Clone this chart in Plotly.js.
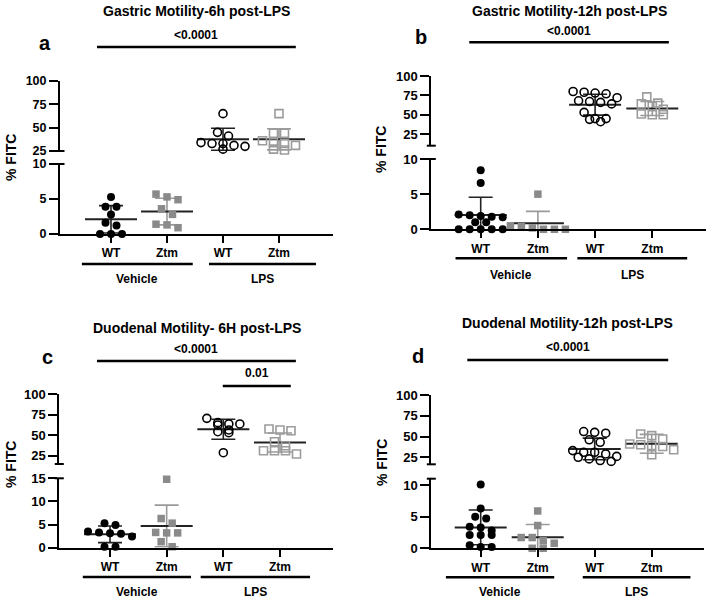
<!DOCTYPE html>
<html>
<head>
<meta charset="utf-8">
<script src="https://cdn.plot.ly/plotly-3.0.1.min.js"></script>
<style>html,body{margin:0;padding:0;background:#fff;}#chart{width:708px;height:600px;}</style>
</head>
<body>
<div id="chart"></div>
<script>
// ---------- DATA ----------
const CAT_LABELS = ['WT', 'Ztm', 'WT', 'Ztm'];
const GROUP_LABELS = ['Vehicle', 'LPS'];
const TITLES = ['Gastric Motility-6h post-LPS', 'Gastric Motility-12h post-LPS',
                'Duodenal Motility- 6H post-LPS', 'Duodenal Motility-12h post-LPS'];
const LETTERS = ['a', 'b', 'c', 'd'];
const Y_TITLE = '% FITC';

// Panel a: Gastric 6h
const a_vehWT  = [5.3, 3.9, 3.9, 2.8, 1.6, 1.2, 0, 0, 0];
const a_vehZtm = [5.7, 5.3, 4.9, 3.6, 2.8, 1.4, 1.3, 0.9];
const a_lpsWT  = [65, 45, 41, 34, 33, 33, 31, 30, 27];
const a_lpsZtm = [65, 44, 44, 36, 34, 33, 31, 27, 26];
const a_mean   = [2.1, 3.2, 37.5, 37.5];
const a_sd     = [1.95, 1.9, 11.8, 11.3];
const a_sig    = ['<0.0001'];

// Panel b: Gastric 12h
const b_vehWT  = [8.4, 6.6, 2.1, 2.0, 1.9, 1.8, 1.7, 1.0, 1.0, 0, 0, 0, 0, 0];
const b_vehZtm = [5.0, 0.5, 0.4, 0.2, 0, 0, 0];
const b_lpsWT  = [80, 79, 78, 77, 72, 68, 67, 66, 64, 53, 45, 45, 44, 41];
const b_lpsZtm = [73, 65, 64, 61, 57, 51, 50, 50];
const b_mean   = [2.05, 0.85, 63, 58];
const b_sd     = [2.5, 1.7, 13.5, 9];
const b_sig    = ['<0.0001'];

// Panel c: Duodenal 6h
const c_vehWT  = [5.3, 4.9, 3.5, 3.3, 3.1, 3.0, 2.4, 0.2, 0.2];
const c_vehZtm = [14.8, 6.3, 5.3, 3.3, 3.2, 3.2, 1.3, 0.2];
const c_lpsWT  = [70.7, 65.4, 63.8, 63.8, 62.6, 56.5, 54.4, 53.2, 28.8];
const c_lpsZtm = [57.7, 56.5, 55.6, 42.2, 37.3, 31.2, 31.2, 31.2, 27.2];
const c_mean   = [2.9, 4.7, 57.3, 41.2];
const c_sd     = [1.8, 4.5, 12.2, 11.6];
const c_sig    = ['<0.0001', '0.01'];

// Panel d: Duodenal 12h
const d_vehWT  = [10.1, 6.3, 5.0, 4.7, 3.4, 3.3, 2.8, 2.1, 2.1, 2.1, 0.5, 0.2, 0.2];
const d_vehZtm = [5.9, 3.6, 1.7, 1.7, 1.2, 0.8, 0, 0];
const d_lpsWT  = [56, 55, 54, 46, 43, 33, 31, 31, 29, 26, 25, 23, 21, 20];
const d_lpsZtm = [53, 51, 47, 41, 40, 39, 38, 34, 28];
const d_mean   = [3.3, 1.75, 35, 41.2];
const d_sd     = [2.75, 2.0, 13, 11.4];
const d_sig    = ['<0.0001'];

// Axis ticks / ranges
const LOW_TICKS = [[0, 5, 10], [0, 5, 10], [0, 5, 10, 15], [0, 5, 10]];
const UP_TICKS = [25, 50, 75, 100];
const LOW_RANGES = [[0, 10], [0, 10], [0, 15], [0, 11]];
const UP_RANGES = [[25, 100], [10, 100], [15, 100], [16.5, 100]];

// ---------- LAYOUT GEOMETRY (pixels, styles) ----------
const W = 708, H = 600;
const FONT = 'Liberation Sans, Arial, Helvetica, sans-serif';
const px = v => v / W;
const py = v => 1 - v / H;

const panels = [
  { series: [a_vehWT, a_vehZtm, a_lpsWT, a_lpsZtm], mean: a_mean, sd: a_sd, sig: a_sig,
    xDom: [60, 333], cat1: 111, cat4: 279, lowDom: [234, 164], upDom: [151, 81],
    labelShift: 1.5, tickSize: 12.5,
    title: [196, 11], letter: [45, 43], ytitle: [11, 158],
    sigGeom: [{ x0: 0.75, x1: 4.30, y: 47, ty: 35 }],
    groups: [[0.48, 2.46], [2.75, 4.66]], gy: 264, gly: 279 },
  { series: [b_vehWT, b_vehZtm, b_lpsWT, b_lpsZtm], mean: b_mean, sd: b_sd, sig: b_sig,
    xDom: [431.3, 705.7], cat1: 480.7, cat4: 652.3, lowDom: [229.3, 159], upDom: [145.7, 76],
    labelShift: 0, tickSize: 13,
    title: [569, 11], letter: [421, 37], ytitle: [381, 150],
    sigGeom: [{ x0: 0.80, x1: 4.29, y: 42.3, ty: 30.7 }],
    groups: [[0.56, 2.51], [2.69, 4.61]], gy: 258.3, gly: 275 },
  { series: [c_vehWT, c_vehZtm, c_lpsWT, c_lpsZtm], mean: c_mean, sd: c_sd, sig: c_sig,
    xDom: [59.3, 333], cat1: 110, cat4: 280, lowDom: [547.7, 478.3], upDom: [464, 394.3],
    labelShift: 0, tickSize: 13,
    title: [197, 328], letter: [47, 357], ytitle: [11, 465],
    sigGeom: [{ x0: 0.77, x1: 4.28, y: 361, ty: 349 }, { x0: 2.99, x1: 4.19, y: 386, ty: 373 }],
    groups: [[0.52, 2.43], [2.60, 4.53]], gy: 577, gly: 592 },
  { series: [d_vehWT, d_vehZtm, d_lpsWT, d_lpsZtm], mean: d_mean, sd: d_sd, sig: d_sig,
    xDom: [431.3, 704], cat1: 480.7, cat4: 651.7, lowDom: [548.3, 478.7], upDom: [464.3, 395],
    labelShift: 0, tickSize: 13,
    title: [567, 323], letter: [418, 356], ytitle: [382, 463],
    sigGeom: [{ x0: 0.765, x1: 4.29, y: 360, ty: 346.7 }],
    groups: [[0.39, 2.29], [2.79, 4.68]], gy: 577.3, gly: 592.3 }
];

const MARKERS = [
  { symbol: 'circle', size: 8, color: '#000000', line: { width: 0 } },
  { symbol: 'square', size: 7.5, color: '#8a8a8a', line: { width: 0 } },
  { symbol: 'circle-open', size: 8, color: '#000000', line: { width: 1.6, color: '#000000' } },
  { symbol: 'square-open', size: 8, color: '#9c9c9c', line: { width: 1.6, color: '#9c9c9c' } }
];
const ERR_COLORS = ['#222222', '#9a9a9a', '#222222', '#9a9a9a'];
const SPACING_PX = 11, ROW_TOL_PX = 6.5, MEAN_HALF_PX = 26, CAP_HALF_PX = 12;

// deterministic beeswarm: rows of nearby values spread symmetrically
function swarm(values, center, pxPerX, pxPerY) {
  const idx = values.map((v, i) => i).sort((a, b) => values[b] - values[a]);
  const xs = new Array(values.length);
  let row = [];
  const flush = () => {
    const n = row.length;
    row.forEach((i, k) => { xs[i] = center + (k - (n - 1) / 2) * SPACING_PX / pxPerX; });
    row = [];
  };
  idx.forEach(i => {
    if (row.length && (values[row[0]] - values[i]) * pxPerY > ROW_TOL_PX) flush();
    row.push(i);
  });
  flush();
  return xs;
}

const traces = [], shapes = [], annotations = [];
const layout = {
  width: W, height: H, margin: { l: 0, r: 0, t: 0, b: 0 },
  paper_bgcolor: '#ffffff', plot_bgcolor: 'rgba(0,0,0,0)', showlegend: false,
  font: { family: FONT, color: '#000' }
};

const axisBase = {
  showline: true, linewidth: 2, linecolor: '#000', showgrid: false, zeroline: false,
  ticks: 'outside', tickwidth: 2, tickcolor: '#000', fixedrange: true
};

panels.forEach((p, i) => {
  const n = i + 1;
  const xId = n === 1 ? 'x' : 'x' + n;
  const xName = n === 1 ? 'xaxis' : 'xaxis' + n;
  const lowNum = 2 * n - 1, upNum = 2 * n;
  const yLowId = lowNum === 1 ? 'y' : 'y' + lowNum;
  const yLowName = lowNum === 1 ? 'yaxis' : 'yaxis' + lowNum;
  const yUpId = 'y' + upNum, yUpName = 'yaxis' + upNum;

  const pxPerX = (p.cat4 - p.cat1) / 3;
  const xRange = [1 - (p.cat1 - p.xDom[0]) / pxPerX, 4 + (p.xDom[1] - p.cat4) / pxPerX];
  const lowRange = LOW_RANGES[i], upRange = UP_RANGES[i];
  const pxPerYLow = (p.lowDom[0] - p.lowDom[1]) / (lowRange[1] - lowRange[0]);
  const pxPerYUp = (p.upDom[0] - p.upDom[1]) / (upRange[1] - upRange[0]);

  layout[xName] = Object.assign({}, axisBase, {
    domain: [px(p.xDom[0]), px(p.xDom[1])], range: xRange, anchor: yLowId,
    tickvals: [1, 2, 3, 4], ticktext: CAT_LABELS, ticklen: 7,
    tickfont: { family: FONT, size: 12, color: '#000', weight: 'bold' }
  });
  layout[yLowName] = Object.assign({}, axisBase, {
    domain: [py(p.lowDom[0]), py(p.lowDom[1])], range: lowRange, anchor: xId,
    tickvals: LOW_TICKS[i], ticklen: 9, ticklabelshift: p.labelShift,
    tickfont: { family: FONT, size: p.tickSize, color: '#000', weight: 'bold' }
  });
  layout[yUpName] = Object.assign({}, axisBase, {
    domain: [py(p.upDom[0]), py(p.upDom[1])], range: upRange, anchor: xId,
    tickvals: UP_TICKS, ticklen: 9, ticklabelshift: -p.labelShift,
    tickfont: { family: FONT, size: p.tickSize, color: '#000', weight: 'bold' }
  });

  // error bars and mean lines
  p.series.forEach((vals, g) => {
    const upper = g >= 2;
    const yref = upper ? yUpId : yLowId;
    const c = g + 1;
    traces.push({
      type: 'scatter', mode: 'markers', xaxis: xId, yaxis: yref,
      x: [c], y: [p.mean[g]],
      marker: { size: 1, color: 'rgba(0,0,0,0)' },
      error_y: { type: 'data', array: [p.sd[g]], visible: true, color: ERR_COLORS[g], thickness: 1.6, width: CAP_HALF_PX },
      hoverinfo: 'skip'
    });
    traces.push({
      type: 'scatter', mode: 'lines', xaxis: xId, yaxis: yref,
      x: [c - MEAN_HALF_PX / pxPerX, c + MEAN_HALF_PX / pxPerX], y: [p.mean[g], p.mean[g]],
      line: { color: '#222', width: 2 }, hoverinfo: 'skip'
    });
  });
  // points
  p.series.forEach((vals, g) => {
    const upper = g >= 2;
    const yref = upper ? yUpId : yLowId;
    const xs = swarm(vals, g + 1, pxPerX, upper ? pxPerYUp : pxPerYLow);
    traces.push({
      type: 'scatter', mode: 'markers', xaxis: xId, yaxis: yref,
      x: xs, y: vals, marker: MARKERS[g], cliponaxis: false
    });
  });

  // axis-break caps
  [p.lowDom[1], p.upDom[0]].forEach(yy => {
    shapes.push({ type: 'line', xref: 'paper', yref: 'paper',
      x0: px(p.xDom[0] - 4.5), x1: px(p.xDom[0] + 4.5), y0: py(yy), y1: py(yy),
      line: { color: '#000', width: 2 } });
  });

  // significance bars
  p.sigGeom.forEach((s, k) => {
    shapes.push({ type: 'line', xref: xId, yref: 'paper', x0: s.x0, x1: s.x1, y0: py(s.y), y1: py(s.y),
      line: { color: '#000', width: 2.5 } });
    annotations.push({ xref: xId, yref: 'paper', x: (s.x0 + s.x1) / 2, y: py(s.ty), text: '<b>' + p.sig[k] + '</b>',
      showarrow: false, xanchor: 'center', yanchor: 'middle', font: { family: FONT, size: 12, color: '#000' } });
  });

  // group lines + labels
  p.groups.forEach((gr, k) => {
    shapes.push({ type: 'line', xref: xId, yref: 'paper', x0: gr[0], x1: gr[1], y0: py(p.gy), y1: py(p.gy),
      line: { color: '#000', width: 2.5 } });
    annotations.push({ xref: xId, yref: 'paper', x: (gr[0] + gr[1]) / 2, y: py(p.gly), text: '<b>' + GROUP_LABELS[k] + '</b>',
      showarrow: false, xanchor: 'center', yanchor: 'middle', font: { family: FONT, size: 12, color: '#000' } });
  });

  // title, letter, y title
  annotations.push({ xref: 'paper', yref: 'paper', x: px(p.title[0]), y: py(p.title[1]), text: '<b>' + TITLES[i] + '</b>',
    showarrow: false, xanchor: 'center', yanchor: 'middle', font: { family: FONT, size: 14, color: '#000' } });
  annotations.push({ xref: 'paper', yref: 'paper', x: px(p.letter[0]), y: py(p.letter[1]), text: '<b>' + LETTERS[i] + '</b>',
    showarrow: false, xanchor: 'center', yanchor: 'middle', font: { family: FONT, size: 20, color: '#000' } });
  annotations.push({ xref: 'paper', yref: 'paper', x: px(p.ytitle[0]), y: py(p.ytitle[1]), text: '<b>' + Y_TITLE + '</b>',
    showarrow: false, xanchor: 'center', yanchor: 'middle', textangle: -90, font: { family: FONT, size: 14, color: '#000' } });
});

layout.shapes = shapes;
layout.annotations = annotations;

Plotly.newPlot('chart', traces, layout, { displayModeBar: false, staticPlot: true });
</script>
</body>
</html>
